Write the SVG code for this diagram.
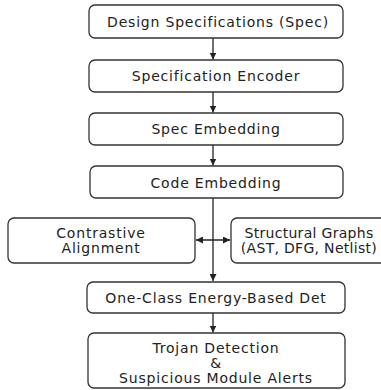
<svg xmlns="http://www.w3.org/2000/svg" width="381" height="390" viewBox="0 0 381 390">
<style>
.box{fill:#fff;stroke:#333;stroke-width:1.3}
.t{font-family:"DejaVu Sans",sans-serif;font-size:14px;letter-spacing:0.8px;fill:#222;text-anchor:middle}
.s{letter-spacing:0.3px}
.c{stroke:#222;stroke-width:1.3;fill:none}
</style>
<defs>
<marker id="ah" viewBox="0 0 10 10" refX="10" refY="5" markerWidth="7" markerHeight="7" markerUnits="userSpaceOnUse" orient="auto-start-reverse">
<path d="M0,0 L10,5 L0,10 z" fill="#222"/>
</marker>
</defs>
<rect width="381" height="390" fill="#fff"/>
<g id="connectors">
<line class="c" x1="213" y1="38" x2="213" y2="59.5" marker-end="url(#ah)"/>
<line class="c" x1="213" y1="92" x2="213" y2="112.5" marker-end="url(#ah)"/>
<line class="c" x1="213" y1="145" x2="213" y2="165.5" marker-end="url(#ah)"/>
<line class="c" x1="213" y1="198" x2="213" y2="281" marker-end="url(#ah)"/>
<line class="c" x1="196" y1="240" x2="230" y2="240" marker-start="url(#ah)" marker-end="url(#ah)"/>
<line class="c" x1="213" y1="313" x2="213" y2="332.5" marker-end="url(#ah)"/>
</g>
<g id="n1"><rect class="box" x="89" y="5" width="254" height="33" rx="6"/><text class="t" x="218" y="27">Design Specifications (Spec)</text></g>
<g id="n2"><rect class="box" x="89" y="60" width="254" height="32" rx="6"/><text class="t" x="216" y="81">Specification Encoder</text></g>
<g id="n3"><rect class="box" x="89" y="113" width="254" height="32" rx="6"/><text class="t" x="216" y="134">Spec Embedding</text></g>
<g id="n4"><rect class="box" x="90" y="166" width="253" height="32" rx="6"/><text class="t" x="216" y="188">Code Embedding</text></g>
<g id="n5"><rect class="box" x="8" y="218" width="187" height="45" rx="6"/><text class="t" x="101" y="238">Contrastive</text><text class="t" x="101" y="253">Alignment</text></g>
<g id="n6"><rect class="box" x="231" y="218" width="170" height="45" rx="6"/><text class="t s" x="309" y="237.5">Structural Graphs</text><text class="t s" x="309" y="252.5">(AST, DFG, Netlist)</text></g>
<g id="n7"><rect class="box" x="87" y="282" width="258" height="31" rx="6"/><text class="t" x="216" y="303">One-Class Energy-Based Det</text></g>
<g id="n8"><rect class="box" x="88" y="333" width="257" height="55" rx="6"/><text class="t" x="216" y="353">Trojan Detection</text><text class="t" x="216" y="368">&amp;</text><text class="t" x="216" y="382.5">Suspicious Module Alerts</text></g>
</svg>
